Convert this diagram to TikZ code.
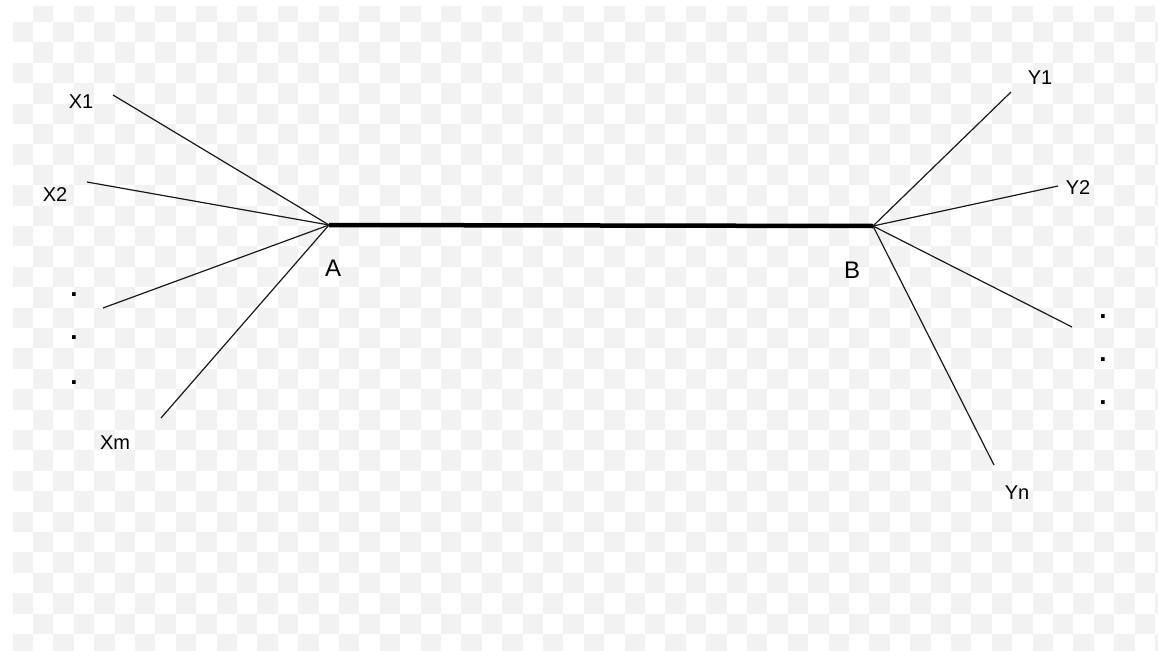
\documentclass[tikz,border=0pt]{standalone}
\usepackage{fontspec}
\setmainfont{Liberation Sans}
\begin{document}
\begin{tikzpicture}[x=1pt,y=-1pt,
  branch/.style={line width=1.2pt, black!90},
  trunk/.style={line width=4.5pt, line cap=butt},
  lab/.style={inner sep=0pt, font=\fontsize{20}{20}\selectfont},
  hublab/.style={inner sep=0pt, font=\fontsize{24}{24}\selectfont},
  dotlab/.style={inner sep=0pt, font=\fontsize{26}{26}\selectfont\bfseries},
  checker/.style={fill=black!5}]
\useasboundingbox (0,0) rectangle (1158,650);
\fill[white] (0,0) rectangle (1158,650);
\begin{scope}
\clip (12.6,7) rectangle (1158,650);
\foreach \r in {0,...,31}{
  \foreach \c in {0,...,56}{
    \pgfmathtruncatemacro\tsum{\r+\c}
    \ifodd\tsum
      \fill[checker] ({12.6+20.4*\c},{1.6+20.4*\r}) rectangle ++(20.4,20.4);
    \fi
  }
}
\end{scope}
% hubs
\coordinate (A) at (329,225);
\coordinate (B) at (873,226);
% free ends
\coordinate (ex1) at (113,95);
\coordinate (ex2) at (87,182);
\coordinate (ex3) at (103,308);
\coordinate (exm) at (161,418);
\coordinate (ey1) at (1011,92);
\coordinate (ey2) at (1058,186);
\coordinate (ey3) at (1072,327);
\coordinate (eyn) at (994,465);
% labels
\node[lab] (x1) at (81,102) {X1};
\node[lab] (x2) at (55,195) {X2};
\node[lab] (xm) at (115,443) {Xm};
\node[lab] (y1) at (1040,78) {Y1};
\node[lab] (y2) at (1078,188) {Y2};
\node[lab] (yn) at (1017,493) {Yn};
\node[hublab] (a) at (333,268) {A};
\node[hublab] (b) at (852,270) {B};
\node[dotlab] (dx1) at (74,295) {.};
\node[dotlab] (dx2) at (74,338) {.};
\node[dotlab] (dx3) at (74,383) {.};
\node[dotlab] (dy1) at (1103,317) {.};
\node[dotlab] (dy2) at (1103,360) {.};
\node[dotlab] (dy3) at (1103,403) {.};
% connectors
\draw[trunk] (A) -- (B);
\foreach \e in {ex1,ex2,ex3,exm}{\draw[branch] (\e) -- (A);}
\foreach \e in {ey1,ey2,ey3,eyn}{\draw[branch] (B) -- (\e);}
\end{tikzpicture}
\end{document}
